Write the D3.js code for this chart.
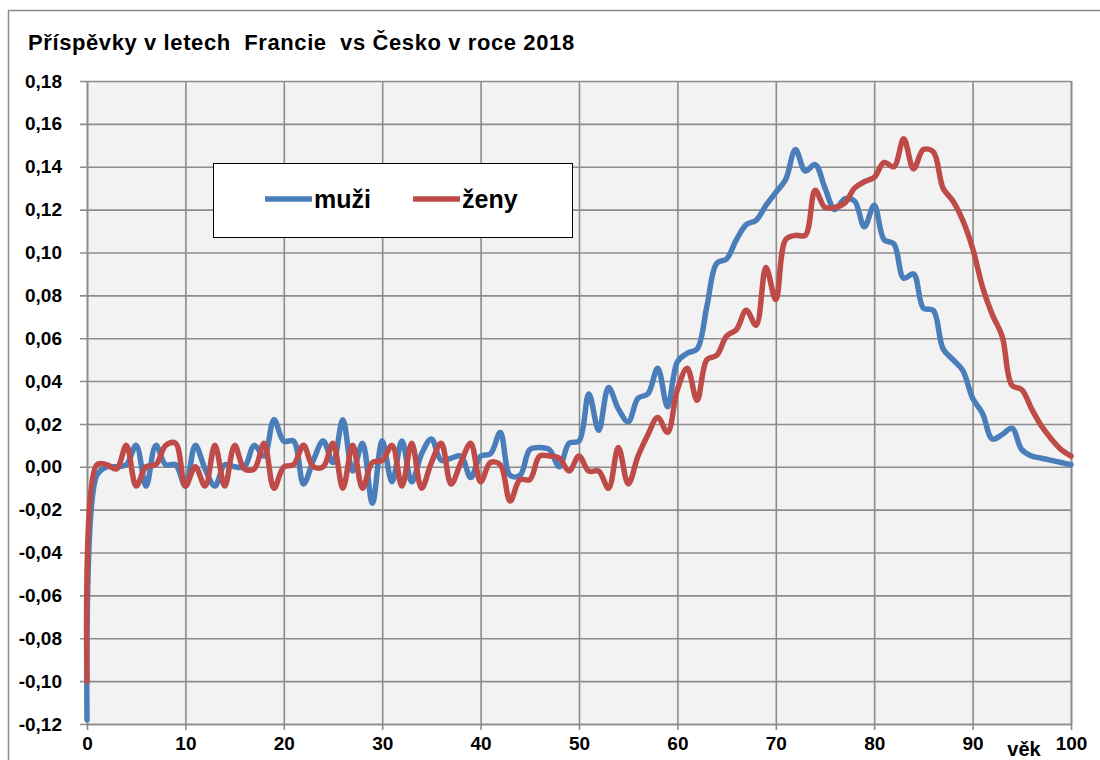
<!DOCTYPE html>
<html>
<head>
<meta charset="utf-8">
<script src="https://cdn.jsdelivr.net/npm/d3@7"></script>
<style>
  body { margin: 0; background: #fff; }
  text { font-family: "Liberation Sans", Arial, sans-serif; font-weight: bold; fill: #000; }
</style>
</head>
<body>
<div id="chart-area"></div>
<script>
// ages 0..100
const ages = d3.range(0, 101)

const muzi = [
  -0.118, -0.004, 0.000, 0.000, 0.001, 0.010, -0.009, 0.010, 0.001, 0.001,
  -0.009, 0.010, -0.001, -0.009, 0.001, 0.000, 0.000, 0.010, 0.005, 0.022,
  0.012, 0.012, -0.008, 0.003, 0.012, 0.002, 0.022, -0.002, 0.011, -0.017,
  0.012, -0.007, 0.012, -0.007, 0.006, 0.013, 0.003, 0.004, 0.005, -0.005,
  0.005, 0.006, 0.016, -0.004, -0.004, 0.008, 0.009, 0.008, 0.000, 0.011,
  0.012, 0.034, 0.017, 0.037, 0.027, 0.021, 0.032, 0.034, 0.046, 0.028,
  0.049, 0.053, 0.055, 0.075, 0.095, 0.097, 0.106, 0.113, 0.115, 0.122,
  0.128, 0.134, 0.148, 0.138, 0.141, 0.130, 0.120, 0.125, 0.124, 0.112,
  0.122, 0.106, 0.104, 0.088, 0.090, 0.074, 0.073, 0.055, 0.050, 0.045,
  0.032, 0.025, 0.013, 0.015, 0.018, 0.008, 0.005, 0.004, 0.003, 0.002,
  0.001
]

const zeny = [
  -0.100, 0.001, 0.001, -0.001, 0.010, -0.009, 0.000, 0.001, 0.010, 0.011,
  -0.009, 0.000, -0.009, 0.010, -0.009, 0.010, -0.001, -0.001, 0.011, -0.010,
  0.000, 0.001, 0.010, 0.000, 0.000, 0.011, -0.010, 0.010, -0.010, 0.002,
  0.003, 0.010, -0.009, 0.011, -0.010, 0.002, 0.011, -0.008, 0.002, 0.011,
  -0.007, 0.002, 0.001, -0.016, -0.006, -0.006, 0.005, 0.005, 0.004, -0.002,
  0.005, -0.002, -0.002, -0.010, 0.009, -0.008, 0.005, 0.015, 0.023, 0.016,
  0.036, 0.046, 0.031, 0.050, 0.052, 0.061, 0.064, 0.073, 0.066, 0.093,
  0.078, 0.106, 0.108, 0.108, 0.129, 0.121, 0.121, 0.123, 0.130, 0.133,
  0.135, 0.142, 0.140, 0.153, 0.139, 0.148, 0.147, 0.130, 0.124, 0.115,
  0.102, 0.084, 0.071, 0.061, 0.038, 0.036, 0.027, 0.019, 0.013, 0.008,
  0.005
]

const xTicks = [0, 10, 20, 30, 40, 50, 60, 70, 80, 90, 100]
const yTicks = [-0.12, -0.10, -0.08, -0.06, -0.04, -0.02, 0, 0.02, 0.04, 0.06, 0.08, 0.10, 0.12, 0.14, 0.16, 0.18]

const seriesNames = ["muži", "ženy"]
const colors = ["#4a7ebb", "#be4b48"]

const W = 1100, H = 760
const PLOT = { LEFT: 87, RIGHT: 1071, TOP: 81, BOTTOM: 724 }

const svg = d3.select("#chart-area").append("svg")
  .attr("width", W)
  .attr("height", H)

// outer chart frame (cut off on right and bottom like the source)
svg.append("rect")
  .attr("x", 8.5).attr("y", 10.5)
  .attr("width", W).attr("height", H)
  .attr("fill", "#fff")
  .attr("stroke", "#8c8c8c")
  .attr("stroke-width", 1.5)

// title
svg.append("text")
  .attr("x", 28).attr("y", 50)
  .attr("font-size", "22px")
  .attr("letter-spacing", "0.6px")
  .style("white-space", "pre")
  .text("Příspěvky v letech  Francie  vs Česko v roce 2018")

const x = d3.scaleLinear().domain([0, 100]).range([PLOT.LEFT, PLOT.RIGHT])
const y = d3.scaleLinear().domain([-0.12, 0.18]).range([PLOT.BOTTOM, PLOT.TOP])

// plot background
svg.append("rect")
  .attr("x", PLOT.LEFT).attr("y", PLOT.TOP)
  .attr("width", PLOT.RIGHT - PLOT.LEFT)
  .attr("height", PLOT.BOTTOM - PLOT.TOP)
  .attr("fill", "#f2f2f2")

const fmt = d => d3.format(".2f")(d).replace(".", ",").replace("−", "-")

// Create y-axis with gridlines
const leftAxis = d3.axisLeft(y)
  .tickValues(yTicks)
  .tickSize(-(PLOT.RIGHT - PLOT.LEFT))
  .tickFormat(fmt)
const gy = svg.append("g")
  .attr("class", "left axis")
  .attr("transform", `translate(${PLOT.LEFT}, 0)`)
  .call(leftAxis)
gy.select(".domain").remove()
gy.selectAll(".tick line")
  .attr("x1", -7)
  .attr("stroke", "#8c8c8c")
  .attr("stroke-width", 1.6)
gy.selectAll(".tick text")
  .attr("x", -25)
  .attr("font-size", "19px")
  .attr("font-family", "Liberation Sans, Arial, sans-serif")

// Create x-axis with gridlines
const bottomAxis = d3.axisBottom(x)
  .tickValues(xTicks)
  .tickSize(-(PLOT.BOTTOM - PLOT.TOP))
  .tickFormat(d3.format("d"))
const gx = svg.append("g")
  .attr("class", "bottom axis")
  .attr("transform", `translate(0, ${PLOT.BOTTOM})`)
  .call(bottomAxis)
gx.select(".domain").attr("stroke", "#8c8c8c").attr("stroke-width", 1.6)
gx.selectAll(".tick line")
  .attr("y1", 6)
  .attr("stroke", "#8c8c8c")
  .attr("stroke-width", 1.6)
gx.selectAll(".tick text")
  .attr("y", 13)
  .attr("dy", "0.71em")
  .attr("font-size", "19px")
  .attr("font-family", "Liberation Sans, Arial, sans-serif")

// x-label
svg.append("text")
  .attr("x", 1024).attr("y", 756)
  .attr("text-anchor", "middle")
  .attr("font-size", "20px")
  .text("věk")

// lines
const line = d3.line()
  .x((d, i) => x(ages[i]))
  .y(d => y(d))
  .curve(d3.curveCatmullRom.alpha(0.5))

;[muzi, zeny].forEach((s, i) => {
  svg.append("path")
    .datum(s)
    .attr("fill", "none")
    .attr("stroke", colors[i])
    .attr("stroke-width", 5.5)
    .attr("stroke-linejoin", "round")
    .attr("stroke-linecap", "round")
    .attr("d", line)
})

// legend
const legend = svg.append("g").attr("class", "legend")
legend.append("rect")
  .attr("x", 213.5).attr("y", 163.5)
  .attr("width", 359).attr("height", 74)
  .attr("fill", "#fff")
  .attr("stroke", "#000")
  .attr("stroke-width", 1)
const legendX = [265, 413]
seriesNames.forEach((name, i) => {
  legend.append("line")
    .attr("x1", legendX[i]).attr("x2", legendX[i] + 47)
    .attr("y1", 199).attr("y2", 199)
    .attr("stroke", colors[i])
    .attr("stroke-width", 5.5)
  legend.append("text")
    .attr("x", legendX[i] + 49).attr("y", 208)
    .attr("font-size", "25px")
    .text(name)
})
</script>
</body>
</html>
